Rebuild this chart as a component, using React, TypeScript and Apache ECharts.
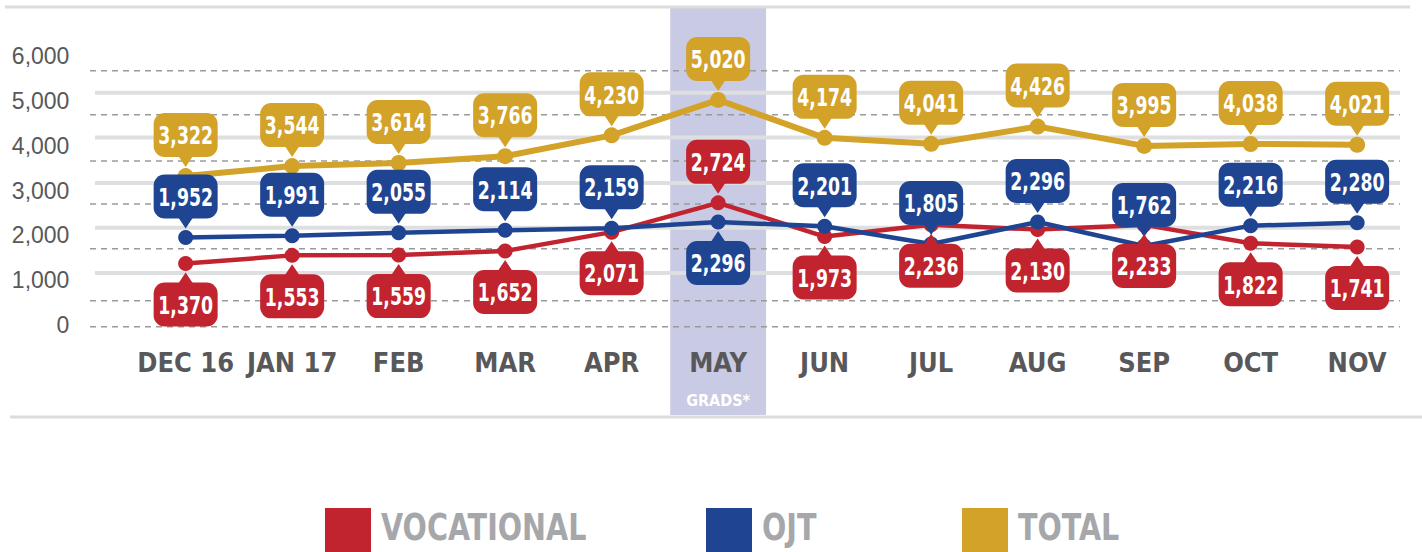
import React, { useEffect, useRef } from 'react';
import * as echarts from 'echarts';

const categories = ['DEC 16', 'JAN 17', 'FEB', 'MAR', 'APR', 'MAY', 'JUN', 'JUL', 'AUG', 'SEP', 'OCT', 'NOV'];
const vocational = [1370, 1553, 1559, 1652, 2071, 2724, 1973, 2236, 2130, 2233, 1822, 1741];
const ojt = [1952, 1991, 2055, 2114, 2159, 2296, 2201, 1805, 2296, 1762, 2216, 2280];
const total = [3322, 3544, 3614, 3766, 4230, 5020, 4174, 4041, 4426, 3995, 4038, 4021];
const seriesNames = ['VOCATIONAL', 'OJT', 'TOTAL'];
const highlightCategory = 'MAY';
const highlightNote = 'GRADS*';
const vocLabelAbove = ['MAY'];
const ojtLabelBelow = ['MAY'];
const gridSolidValues = [5180, 4180, 3170, 2170, 1160];
const gridDashedValues = [5670, 4690, 3660, 2700, 1700, 540, -40];

const RED = '#c1232f';
const BLUE = '#1f4592';
const GOLD = '#d3a228';
const seriesColors = [RED, BLUE, GOLD];
const NARROW = '"Liberation Sans Narrow", "Arial Narrow", "DejaVu Sans Condensed", sans-serif';

const fmt = (v: number) => v.toLocaleString('en-US');

function bubbleSeries(name: string, values: number[], color: string, belowFn: (c: string) => boolean) {
  return {
    type: 'custom',
    name: name + '_labels',
    z: 5,
    clip: false,
    silent: true,
    data: values.map((v, i) => [i, v, belowFn(categories[i]) ? 1 : 0]),
    renderItem: (params: any, api: any) => {
      const pt = api.coord([api.value(0), api.value(1)]);
      const px = pt[0];
      const py = pt[1];
      const below = api.value(2) === 1;
      const w = 64, h = 44, gap = 9, th = 10, hw = 8;
      const tipY = below ? py + gap : py - gap;
      const baseY = below ? tipY + th : tipY - th;
      const rectY = below ? baseY : baseY - h;
      const overlap = below ? 2 : -2;
      return {
        type: 'group',
        children: [
          { type: 'rect', shape: { x: px - w / 2, y: rectY, width: w, height: h, r: 11 }, style: { fill: color } },
          {
            type: 'polygon',
            shape: { points: [[px - hw, baseY + overlap], [px + hw, baseY + overlap], [px, tipY]] },
            style: { fill: color },
          },
          {
            type: 'text',
            x: px,
            y: rectY + h / 2 + 1,
            scaleX: 0.8,
            style: {
              text: fmt(api.value(1)),
              x: 0,
              y: 0,
              align: 'center',
              verticalAlign: 'middle',
              fill: '#ffffff',
              fontSize: 24,
              fontWeight: 'bold',
              fontFamily: NARROW,
            },
          },
        ],
      };
    },
  };
}

export default function App() {
  const ref = useRef<HTMLDivElement>(null);
  useEffect(() => {
    if (!ref.current) return;
    const chart = echarts.init(ref.current, null, { renderer: 'svg' });
    const option: any = {
      animation: false,
      backgroundColor: '#ffffff',
      grid: { left: 132.4, right: 11.6, top: 56, bottom: 227, containLabel: false },
      xAxis: {
        type: 'category',
        data: categories,
        boundaryGap: true,
        axisLine: { show: false },
        axisTick: { show: false },
        splitLine: { show: false },
        axisLabel: {
          margin: 20,
          interval: 0,
          formatter: (v: string) => (v === highlightCategory ? `{a|${v}}\n{b|${highlightNote}}` : `{a|${v}}`),
          rich: {
            a: { fontSize: 27, fontWeight: 'bold', color: '#58585a', fontFamily: NARROW, lineHeight: 34 },
            b: { fontSize: 16, fontWeight: 'bold', color: '#ffffff', fontFamily: NARROW, lineHeight: 42 },
          },
        },
      },
      yAxis: {
        type: 'value',
        min: 0,
        max: 6000,
        interval: 1000,
        axisLine: { show: false },
        axisTick: { show: false },
        splitLine: { show: false },
        axisLabel: {
          margin: 63,
          fontSize: 23,
          color: '#58585a',
          fontFamily: '"Liberation Sans", Arial, sans-serif',
          formatter: (v: number) => fmt(v),
        },
      },
      series: [
        {
          type: 'line',
          name: 'VOCATIONAL',
          data: vocational,
          color: RED,
          z: 2,
          symbol: 'circle',
          symbolSize: 15,
          lineStyle: { width: 4.5, color: RED },
          itemStyle: { color: RED },
        },
        {
          type: 'line',
          name: 'OJT',
          data: ojt,
          color: BLUE,
          z: 3,
          symbol: 'circle',
          symbolSize: 15,
          lineStyle: { width: 4.5, color: BLUE },
          itemStyle: { color: BLUE },
        },
        {
          type: 'line',
          name: 'TOTAL',
          data: total,
          color: GOLD,
          z: 3,
          symbol: 'circle',
          symbolSize: 16,
          lineStyle: { width: 6, color: GOLD },
          itemStyle: { color: GOLD },
        },
        bubbleSeries('TOTAL', total, GOLD, () => false),
        bubbleSeries('OJT', ojt, BLUE, (c) => ojtLabelBelow.includes(c)),
        bubbleSeries('VOCATIONAL', vocational, RED, (c) => !vocLabelAbove.includes(c)),
      ],
    };
    chart.setOption(option);

    const idx = categories.indexOf(highlightCategory);
    const px = (i: number) => chart.convertToPixel({ xAxisIndex: 0 }, i) as number;
    const py = (v: number) => chart.convertToPixel({ yAxisIndex: 0 }, v) as number;
    const cx = px(idx);
    const bw = (px(1) - px(0)) * 0.9;

    const graphics: any[] = [
      { type: 'rect', z: -3, shape: { x: cx - bw / 2, y: 8, width: bw, height: 407 }, style: { fill: '#c9cae4' } },
      { type: 'line', z: -1, shape: { x1: 5, y1: 7, x2: 1410, y2: 7 }, style: { stroke: '#dcdcdc', lineWidth: 3 } },
      { type: 'line', z: -1, shape: { x1: 10, y1: 417, x2: 1422, y2: 417 }, style: { stroke: '#dcdcdc', lineWidth: 3 } },
      ...gridSolidValues.map((v) => ({
        type: 'line',
        z: -1,
        shape: { x1: 95, y1: py(v), x2: 1400, y2: py(v) },
        style: { stroke: '#dedfe0', lineWidth: 4 },
      })),
      ...gridDashedValues.map((v) => ({
        type: 'line',
        z: -1,
        shape: { x1: 90, y1: py(v), x2: 1400, y2: py(v) },
        style: { stroke: '#9a9a9a', lineWidth: 1.5, lineDash: [6, 5] },
      })),
    ];
    const legendX = [325, 706, 962];
    const legendScale = 0.86;
    seriesNames.forEach((name, i) => {
      graphics.push({ type: 'rect', z: 1, shape: { x: legendX[i], y: 508, width: 46, height: 44 }, style: { fill: seriesColors[i] } });
      graphics.push({
        type: 'text',
        z: 1,
        x: legendX[i] + 56,
        y: 527,
        scaleX: legendScale,
        style: {
          text: name,
          x: 0,
          y: 0,
          align: 'left',
          verticalAlign: 'middle',
          fill: '#a6a7ab',
          fontSize: 37,
          fontWeight: 'bold',
          fontFamily: NARROW,
        },
      });
    });
    chart.setOption({ graphic: graphics });
    return () => chart.dispose();
  }, []);
  return <div ref={ref} style={{ position: 'fixed', left: 0, top: 0, width: 1422, height: 552 }} />;
}
